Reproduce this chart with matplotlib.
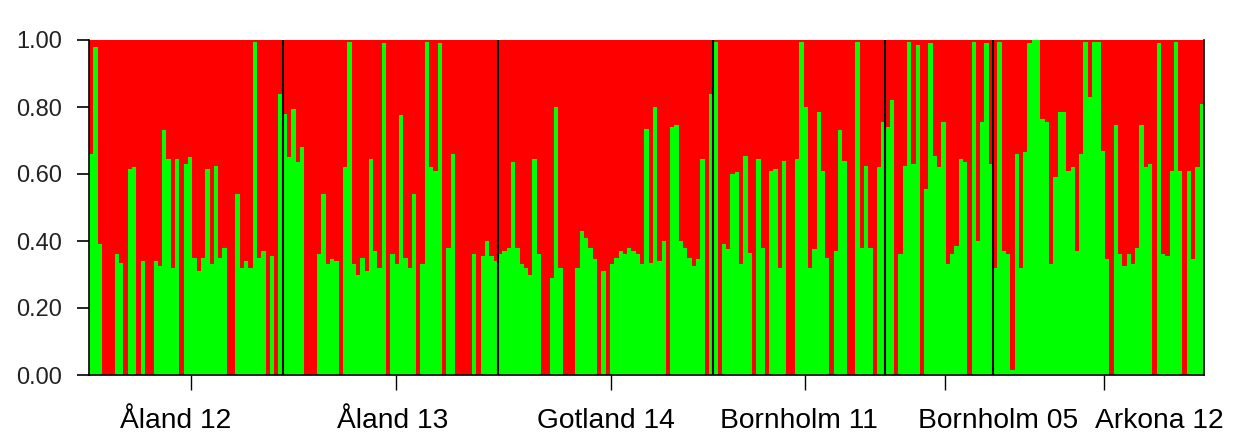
#STRUCTURE-style admixture bar plot: green = cluster 1 share, red = cluster 2 share
import numpy as np
import matplotlib
matplotlib.use("Agg")
import matplotlib.pyplot as plt
from matplotlib.transforms import blended_transform_factory

#Population names in plot order
populations = ["Åland 12", "Åland 13", "Gotland 14", "Bornholm 11", "Bornholm 05", "Arkona 12"]

#Green (cluster 1) membership of each individual
aland12 = [0.66, 0.98, 0.39, 0, 0, 0, 0.36, 0.335, 0, 0.615, 0.62, 0, 0.34, 0, 0,
           0.34, 0.325, 0.73, 0.645, 0.32, 0.645, 0, 0.63, 0.65, 0.35, 0.31, 0.35, 0.615,
           0.33, 0.625, 0.35, 0.38, 0, 0, 0.54, 0.32, 0.34, 0.32, 0.995, 0.35, 0.37, 0,
           0.355, 0, 0.84]
aland13 = [0.78, 0.65, 0.795, 0.635, 0.68, 0, 0, 0, 0.36, 0.54, 0.33, 0.345, 0.34, 0,
           0.62, 0.995, 0.33, 0.30, 0.35, 0.31, 0.645, 0.37, 0.32, 0.99, 0, 0.36, 0.33,
           0.775, 0.35, 0.32, 0.54, 0, 0.33, 0.995, 0.62, 0.61, 0.99, 0, 0.38, 0.66, 0, 0,
           0, 0, 0.36, 0, 0.355, 0.40, 0.355, 0.34]
gotland14 = [0.36, 0.37, 0.38, 0.635, 0.38, 0.33, 0.32, 0.30, 0.645, 0.36, 0, 0, 0.29,
             0.80, 0.32, 0, 0, 0, 0.32, 0.43, 0.41, 0.38, 0.345, 0, 0.31, 0, 0.33, 0.35,
             0.37, 0.36, 0.38, 0.37, 0.36, 0.33, 0.735, 0.335, 0.80, 0.34, 0.40, 0, 0.74,
             0.745, 0.40, 0.38, 0.35, 0.325, 0.345, 0.645, 0, 0.84]
bornholm11 = [0.995, 0, 0.39, 0.375, 0.60, 0.605, 0.33, 0.655, 0.365, 0, 0.645, 0.38, 0,
              0.61, 0.615, 0.32, 0.64, 0, 0, 0.645, 0.995, 0.80, 0.32, 0.375, 0.785, 0.61,
              0.35, 0, 0.37, 0.73, 0.64, 0, 0, 0.995, 0.38, 0.625, 0.38, 0, 0.62, 0.755]
bornholm05 = [0.74, 0.82, 0, 0.36, 0.625, 0.995, 0.63, 0.985, 0, 0.555, 0.99, 0.655, 0.62,
              0.755, 0.33, 0.36, 0.385, 0.645, 0.635, 0, 0.995, 0.40, 0.755, 0.99, 0.63]
arkona12 = [0.32, 0.995, 0.37, 0.36, 0.015, 0.66, 0.32, 0.665, 0.99, 1.0, 1.0, 0.765, 0.755,
            0.33, 0.59, 0.785, 0.785, 0.61, 0.62, 0.37, 0.66, 0.995, 0.83, 0.995, 0.995,
            0.67, 0.345, 0, 0.745, 0.36, 0.325, 0.36, 0.33, 0.38, 0.745, 0.62, 0.63, 0,
            0.99, 0.36, 0.355, 0.61, 0.995, 0.61, 0, 0.61, 0.345, 0.62, 0.81]

groups = [aland12, aland13, gotland14, bornholm11, bornholm05, arkona12]

#Shift of each population label from its group centre (in individuals)
label_shift = [-2.4, 0.5, 0.1, -0.1, 13.7, 14.2]

green = np.concatenate([np.array(g, dtype=float) for g in groups])
red = 1 - green
n = len(green)
x = np.arange(n)

sizes = [len(g) for g in groups]
starts = np.concatenate([[0], np.cumsum(sizes)[:-1]])
ends = np.cumsum(sizes)

fig = plt.figure(figsize=(12.4, 4.36), dpi=100)
ax = fig.add_axes([89 / 1240, 1 - 375 / 436, (1204 - 89) / 1240, 335 / 436])

#Stacked bars, one per individual
ax.bar(x, green, width=1.0, align="edge", color="#00ff00", linewidth=0)
ax.bar(x, red, width=1.0, bottom=green, align="edge", color="#ff0000", linewidth=0)

#Black lines between populations
for b in ends[:-1]:
    ax.axvline(b, color="black", lw=1.5)

ax.set_xlim(0, n)
ax.set_ylim(0, 1)

#Axis styling
ax.spines["top"].set_visible(False)
for s in ["left", "bottom", "right"]:
    ax.spines[s].set_color("black")
    ax.spines[s].set_linewidth(1.2)

yt = [0, 0.2, 0.4, 0.6, 0.8, 1.0]
ax.set_yticks(yt)
ax.set_yticklabels([f"{v:.2f}" for v in yt], fontsize=17, family="Liberation Sans", color="#222222")
ax.tick_params(axis="y", length=8.6, width=1.2, pad=10.5, color="black")

centers = starts + np.array(sizes) / 2
ax.set_xticks(centers + 1.3)
ax.set_xticklabels([])
ax.tick_params(axis="x", length=11, width=1.0, color="black", direction="out")

#Population names under the axis
trans = blended_transform_factory(ax.transData, ax.transAxes)
for name, c, s in zip(populations, centers, label_shift):
    ax.text(c + s, -0.157, name, transform=trans, ha="center", va="baseline",
            fontsize=20.3, family="Liberation Sans", color="black")

fig.savefig("out.png", dpi=100)
